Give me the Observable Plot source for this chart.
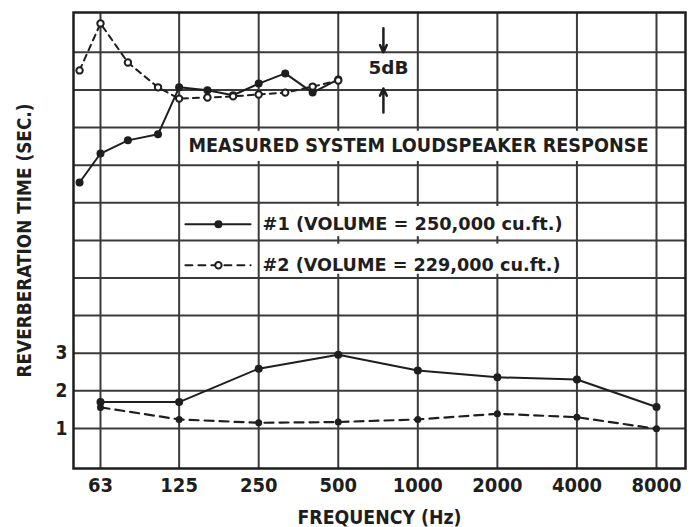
<!DOCTYPE html>
<html><head><meta charset="utf-8">
<script src="https://cdn.jsdelivr.net/npm/d3@7"></script>
<script src="https://cdn.jsdelivr.net/npm/@observablehq/plot@0.6"></script>
<style>
html,body{margin:0;padding:0;background:#fff;}
#chart svg{display:block;}
</style></head><body><div id="chart"></div>
<script>
// Octave-band reverberation time (seconds)
const octaveFreqs = [63, 125, 250, 500, 1000, 2000, 4000, 8000];
const octaveLabels = ["63", "125", "250", "500", "1000", "2000", "4000", "8000"];
const reverb1 = [1.70, 1.70, 2.59, 2.96, 2.54, 2.36, 2.30, 1.57];
const reverb2 = [1.56, 1.24, 1.15, 1.17, 1.24, 1.39, 1.30, 0.99];

// One-third-octave loudspeaker response (grid units, 1 grid = 5 dB)
const thirdFreqs = [52.5, 63, 80, 104, 125, 160, 200, 250, 315, 400, 500];
const response1 = [7.54, 8.31, 8.66, 8.82, 10.07, 9.99, 9.86, 10.17, 10.44, 9.93, 10.28];
const response2 = [10.52, 11.77, 10.73, 10.07, 9.77, 9.80, 9.83, 9.88, 9.93, 10.09, 10.25];

const yTickValues = [1, 2, 3];
const gridYValues = [1, 2, 3, 4, 5, 6, 7, 8, 9, 10, 11];

// Annotation texts
const titleText = "MEASURED SYSTEM LOUDSPEAKER RESPONSE";
const legendTexts = ["#1 (VOLUME = 250,000 cu.ft.)", "#2 (VOLUME = 229,000 cu.ft.)"];
const dbText = "5dB";
const xLabel = "FREQUENCY (Hz)";
const yLabel = "REVERBERATION TIME (SEC.)";

// Annotation anchors (data units: Hz, grid units)
const whiteBands = [
  {x1: 131, x2: 7730, y1: 8.1, y2: 8.9},
  {x1: 254, x2: 3800, y1: 6.1, y2: 6.9},
  {x1: 254, x2: 3800, y1: 5.1, y2: 5.9}
];
const titlePos = {x: 135.6, y: 8.52};
const legendRowsY = [6.43, 5.34];
const legendSampleX = [132, 233];
const legendMarkerX = 176;
const legendTextX = 258.5;
const dbPos = {x: 651, y: 10.57};
const dbArrows = [
  {x: 741, y1: 11.64, y2: 11.0},
  {x: 741, y1: 9.40, y2: 10.04}
];

const ink = "#1e1e1e";
const gridInk = "#3a3a3a";

const rev1 = octaveFreqs.map((f, i) => ({f, v: reverb1[i]}));
const rev2 = octaveFreqs.map((f, i) => ({f, v: reverb2[i]}));
const resp1 = thirdFreqs.map((f, i) => ({f, v: response1[i]}));
const resp2 = thirdFreqs.map((f, i) => ({f, v: response2[i]}));
const legendSolid = legendSampleX.map(x => ({x, y: legendRowsY[0]}));
const legendDashed = legendSampleX.map(x => ({x, y: legendRowsY[1]}));

const chart = Plot.plot({
  width: 698,
  height: 527,
  marginLeft: 73,
  marginRight: 13,
  marginTop: 12,
  marginBottom: 59,
  style: {fontFamily: "'DejaVu Sans Condensed', 'DejaVu Sans', sans-serif", fontWeight: "bold", fontSize: "19px", color: ink, background: "#fff"},
  x: {type: "log", domain: [49.8, 10300], axis: null},
  y: {domain: [-0.065, 12.06], axis: null},
  marks: [
    Plot.ruleX(octaveFreqs, {stroke: gridInk, strokeWidth: 2}),
    Plot.ruleY(gridYValues, {stroke: gridInk, strokeWidth: 2}),
    Plot.rect(whiteBands, {x1: "x1", x2: "x2", y1: "y1", y2: "y2", fill: "#fff"}),
    Plot.frame({stroke: ink, strokeWidth: 2.5}),
    // x tick labels and axis titles
    Plot.text(octaveLabels, {x: (d, i) => octaveFreqs[i], text: d => d, frameAnchor: "bottom", lineAnchor: "middle", dy: 17, fontSize: 20, fill: ink}),
    Plot.text([xLabel], {text: d => d, frameAnchor: "bottom", lineAnchor: "middle", dy: 49, fontSize: 19, fill: ink}),
    Plot.axisY(yTickValues, {tickSize: 0, tickPadding: 6, label: yLabel, labelAnchor: "center", labelOffset: 56,
      labelArrow: "none", fontSize: 19, fill: ink}),
    // reverberation time curves
    Plot.line(rev1, {x: "f", y: "v", stroke: ink, strokeWidth: 2}),
    Plot.dot(rev1, {x: "f", y: "v", r: 4, fill: ink}),
    Plot.line(rev2, {x: "f", y: "v", stroke: ink, strokeWidth: 2.2, strokeDasharray: "9,6"}),
    Plot.dot(rev2, {x: "f", y: "v", r: 3.5, fill: ink}),
    // loudspeaker response curves
    Plot.line(resp1, {x: "f", y: "v", stroke: ink, strokeWidth: 2}),
    Plot.dot(resp1, {x: "f", y: "v", r: 4, fill: ink}),
    Plot.line(resp2, {x: "f", y: "v", stroke: ink, strokeWidth: 2, strokeDasharray: "6,5"}),
    Plot.dot(resp2, {x: "f", y: "v", r: 3.2, fill: "#fff", stroke: ink, strokeWidth: 2}),
    // 5 dB annotation
    Plot.arrow(dbArrows, {x: "x", y1: "y1", y2: "y2", stroke: ink, strokeWidth: 2.5, headLength: 9, headAngle: 50}),
    Plot.text([dbPos], {x: "x", y: "y", text: () => dbText, textAnchor: "start", fontSize: 17, fill: ink}),
    // title
    Plot.text([titlePos], {x: "x", y: "y", text: () => titleText, textAnchor: "start", fontSize: 19, fill: ink}),
    // legend
    Plot.line(legendSolid, {x: "x", y: "y", stroke: ink, strokeWidth: 2}),
    Plot.dot([{x: legendMarkerX, y: legendRowsY[0]}], {x: "x", y: "y", r: 4, fill: ink}),
    Plot.line(legendDashed, {x: "x", y: "y", stroke: ink, strokeWidth: 2, strokeDasharray: "7,6"}),
    Plot.dot([{x: legendMarkerX, y: legendRowsY[1]}], {x: "x", y: "y", r: 3.2, fill: "#fff", stroke: ink, strokeWidth: 2}),
    Plot.text(legendRowsY.map((y, i) => ({x: legendTextX, y, t: legendTexts[i]})), {x: "x", y: "y", text: "t", textAnchor: "start", fontSize: 17, fill: ink})
  ]
});

// Fit text widths to the lettering of the original
const fitLengths = {};
fitLengths[titleText] = 460;
fitLengths[legendTexts[0]] = 300;
fitLengths[legendTexts[1]] = 298;
fitLengths[dbText] = 40;
fitLengths[xLabel] = 164;
fitLengths[yLabel] = 274;
chart.querySelectorAll("text").forEach(t => {
  const s = t.textContent.trim();
  if (fitLengths[s] !== undefined) {
    t.setAttribute("textLength", fitLengths[s]);
    t.setAttribute("lengthAdjust", "spacingAndGlyphs");
  }
});
document.getElementById("chart").appendChild(chart);
</script>
</body></html>
